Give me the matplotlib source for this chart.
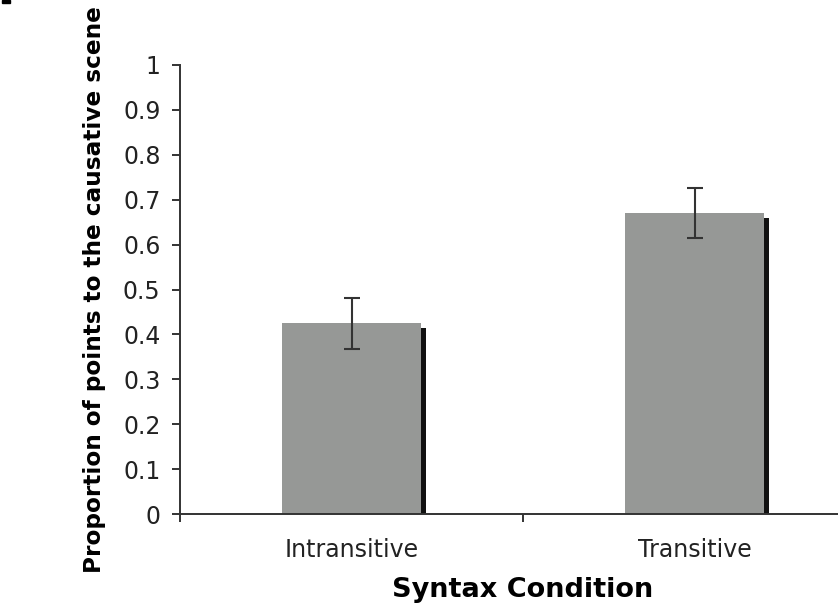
import matplotlib
matplotlib.use('Agg')
import matplotlib.pyplot as plt
import matplotlib.patheffects as pe
from matplotlib.patches import Rectangle

# Data
condicoes = ['Intransitive', 'Transitive']
proporcoes = [0.425, 0.670]
erros = [0.057, 0.055]
yticks = [0, 0.1, 0.2, 0.3, 0.4, 0.5, 0.6, 0.7, 0.8, 0.9, 1]
ytick_labels = ['0', '0.1', '0.2', '0.3', '0.4', '0.5', '0.6', '0.7', '0.8', '0.9', '1']

W, H = 838, 613
fig = plt.figure(figsize=(W / 100, H / 100), dpi=100)
ax = fig.add_axes([180 / W, 99 / H, 686 / W, 449 / H])

posicoes = [i + 0.5 for i in range(len(condicoes))]

sombra = [pe.SimplePatchShadow(offset=(3.6, -3.6), shadow_rgbFace='#111111', alpha=1), pe.Normal()]
barras = ax.bar(posicoes, proporcoes, width=0.408, color='#969896', zorder=2)
for b in barras:
    b.set_path_effects(sombra)

ax.errorbar(posicoes, proporcoes, yerr=erros, fmt='none', ecolor='#333333',
            elinewidth=1.5, capsize=6, capthick=1.5, zorder=3)

ax.set_xlim(0, len(condicoes))
ax.set_ylim(0, 1)

for s in ['top', 'right']:
    ax.spines[s].set_visible(False)
for s in ['left', 'bottom']:
    ax.spines[s].set_color('#333333')
    ax.spines[s].set_linewidth(1.4)

ax.set_yticks(yticks)
ax.set_yticklabels(ytick_labels)
ax.tick_params(axis='y', direction='out', length=6, width=1.4, color='#333333',
               labelsize=17, labelcolor='#222222', pad=8)

# category boundaries as tick marks, names at category centres
ax.set_xticks(range(len(condicoes) + 1))
ax.set_xticklabels([''] * (len(condicoes) + 1))
ax.tick_params(axis='x', which='major', direction='out', length=6, width=1.4, color='#333333')
ax.set_xticks(posicoes, minor=True)
ax.set_xticklabels(condicoes, minor=True)
ax.tick_params(axis='x', which='minor', length=0, labelsize=17, labelcolor='#222222', pad=17)

ax.set_xlabel('Syntax Condition', fontsize=19.5, fontweight='bold', labelpad=11)
ax.set_ylabel('Proportion of points to the causative scene', fontsize=16.7, fontweight='bold')
ax.yaxis.set_label_coords(-74 / 686, 0.5)

# small black mark in the upper-left corner of the original
fig.patches.append(Rectangle((2 / W, 1 - 3 / H), 8 / W, 3 / H, transform=fig.transFigure,
                             color='black', figure=fig))

fig.savefig('out.png', dpi=100)
